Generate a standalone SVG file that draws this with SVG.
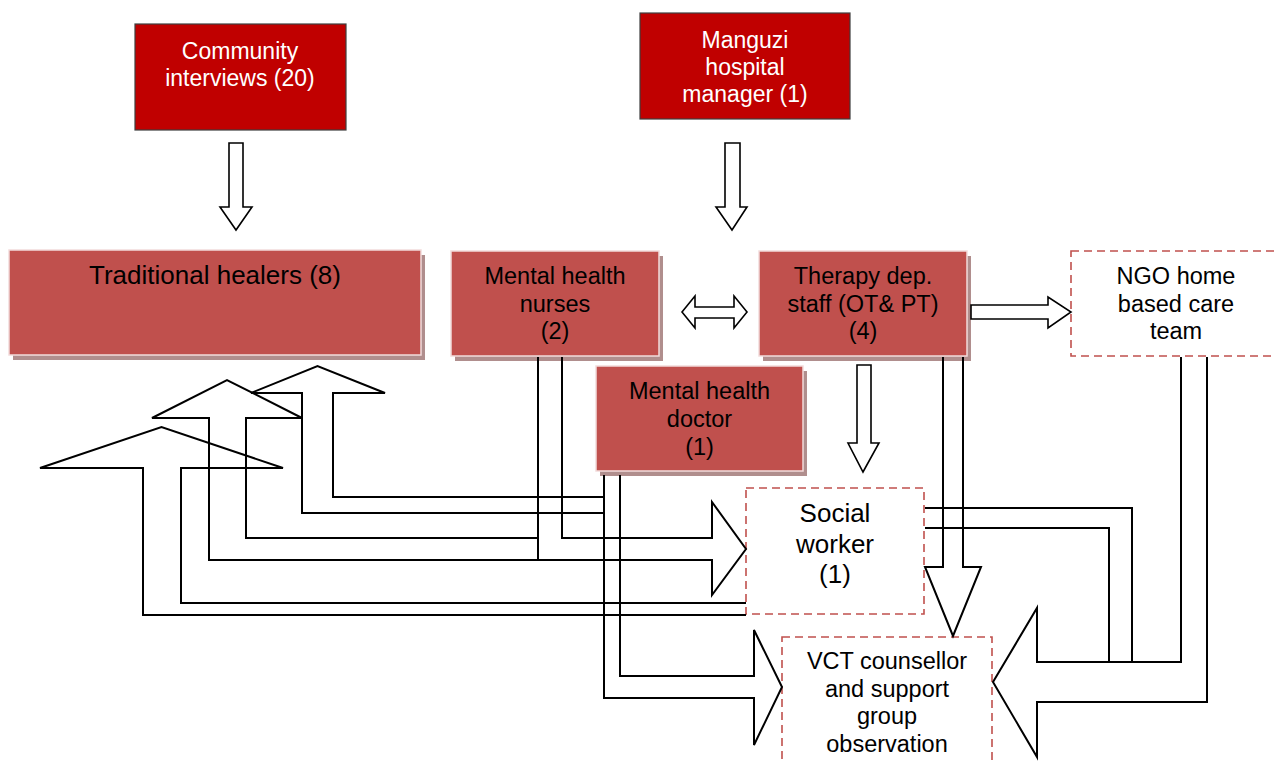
<svg xmlns="http://www.w3.org/2000/svg" width="1276" height="764" viewBox="0 0 1276 764">
  <style>
    .txt { font-family: "Liberation Sans", Arial, sans-serif; text-anchor: middle; }
    .white { fill: #FFFFFF; font-size: 23px; }
    .dark { fill: #000000; font-size: 23.5px; }
    .big { fill: #000000; font-size: 26px; }
    .top { fill: #C00000; stroke: #3F3F3F; stroke-width: 1.2; }
    .solid { fill: #C0504D; stroke: #F2DCDB; stroke-width: 1.5; }
    .shadow { fill: #B08E8D; }
    .dashed { fill: #FFFFFF; stroke: #C0504D; stroke-width: 1.6; stroke-dasharray: 8 5; }
    .blk { fill: #FFFFFF; stroke: #000000; stroke-width: 1.6; stroke-linejoin: miter; }
    .ln { fill: none; stroke: #000000; stroke-width: 2; stroke-linejoin: miter; }
  </style>

  <rect width="1276" height="764" fill="#FFFFFF"/>

  <!-- sources -->
  <g id="community">
    <rect class="top" x="135" y="24" width="211" height="106"/>
    <text class="txt white" x="240" y="59">Community</text>
    <text class="txt white" x="240" y="86">interviews (20)</text>
  </g>
  <g id="manager">
    <rect class="top" x="640" y="13" width="210" height="106"/>
    <text class="txt white" x="745" y="48">Manguzi</text>
    <text class="txt white" x="745" y="75">hospital</text>
    <text class="txt white" x="745" y="102">manager (1)</text>
  </g>

  <!-- participant groups -->
  <g id="healers">
    <rect class="shadow" x="13" y="255" width="412" height="105"/>
    <rect class="solid" x="9" y="250" width="412" height="105"/>
    <text class="txt big" x="215" y="284">Traditional healers (8)</text>
  </g>
  <g id="nurses">
    <rect class="shadow" x="455" y="256" width="208" height="105"/>
    <rect class="solid" x="451" y="251" width="208" height="105"/>
    <text class="txt dark" x="555" y="284">Mental health</text>
    <text class="txt dark" x="555" y="311.5">nurses</text>
    <text class="txt dark" x="555" y="339">(2)</text>
  </g>
  <g id="therapy">
    <rect class="shadow" x="763" y="256" width="208" height="105"/>
    <rect class="solid" x="759" y="251" width="208" height="105"/>
    <text class="txt dark" x="863" y="284">Therapy dep.</text>
    <text class="txt dark" x="863" y="311.5">staff (OT&amp; PT)</text>
    <text class="txt dark" x="863" y="339">(4)</text>
  </g>
  <g id="doctor">
    <rect class="shadow" x="600" y="371" width="207" height="105"/>
    <rect class="solid" x="596" y="366" width="207" height="105"/>
    <text class="txt dark" x="699.5" y="399">Mental health</text>
    <text class="txt dark" x="699.5" y="427">doctor</text>
    <text class="txt dark" x="699.5" y="455">(1)</text>
  </g>
  <g id="ngo">
    <rect class="dashed" x="1071" y="251" width="210" height="105"/>
    <text class="txt dark" x="1176" y="284">NGO home</text>
    <text class="txt dark" x="1176" y="311.5">based care</text>
    <text class="txt dark" x="1176" y="339">team</text>
  </g>
  <g id="social">
    <rect class="dashed" x="746" y="488" width="178" height="126"/>
    <text class="txt big" x="835" y="522">Social</text>
    <text class="txt big" x="835" y="552.5">worker</text>
    <text class="txt big" x="835" y="583">(1)</text>
  </g>
  <g id="vct">
    <rect class="dashed" x="782" y="637" width="210" height="150"/>
    <text class="txt dark" x="887" y="669">VCT counsellor</text>
    <text class="txt dark" x="887" y="696.5">and support</text>
    <text class="txt dark" x="887" y="724">group</text>
    <text class="txt dark" x="887" y="751.5">observation</text>
  </g>

  <!-- block-arrow connectors -->
  <g id="connectors">
    <!-- community interviews to healers -->
    <path class="blk" d="M229,143 H243 V207 H252 L236,230 L220,207 H229 Z"/>
    <!-- hospital manager to therapy staff -->
    <path class="blk" d="M725,143 H740 V207 H747 L732,230 L716,207 H725 Z"/>
    <!-- nurses <-> therapy staff -->
    <path class="blk" d="M682,312 L695,296 V307 H734 V296 L747,312 L734,328 V318 H695 V328 Z"/>
    <!-- therapy staff to NGO team -->
    <path class="blk" d="M971,305 H1048 V297 L1071,312 L1048,328 V319 H971 Z"/>
    <!-- therapy staff to social worker -->
    <path class="blk" d="M857,365 H871 V443 H879 L863,472 L848,443 H857 Z"/>

    <!-- therapy staff to VCT -->
    <path class="ln" d="M943,357 V567 H925 L953,636 L981,567 H963 V357"/>

    <!-- nurses to social worker, and nurses up to healers -->
    <path class="ln" d="M562,357 V538 H712 V502 L746,549 L712,595 V560 H209 V418 H152 L227,380 L302,418 H246 V538 H538"/>
    <path class="ln" d="M538,357 V560"/>

    <!-- doctor up to healers -->
    <path class="ln" d="M604,497 H333 V393 H385 L317.5,366 L251,393 H302 V513 H604"/>
    <!-- doctor to VCT -->
    <path class="ln" d="M604,475 V698 H754 V745 L782,687 L754,630 V676 H620 V475"/>

    <!-- social worker up to healers -->
    <path class="ln" d="M746,603 H181 V468 H283 L161.5,427 L40,468 H143 V615 H746"/>

    <!-- NGO team to VCT -->
    <path class="ln" d="M1181,357 V662 H1037 V608 L993,682 L1037,757 V702 H1207 V357"/>
    <!-- social worker joins the NGO arrow to VCT -->
    <path class="ln" d="M925,508 H1132 V662"/>
    <path class="ln" d="M925,528 H1109 V662"/>
  </g>
</svg>
